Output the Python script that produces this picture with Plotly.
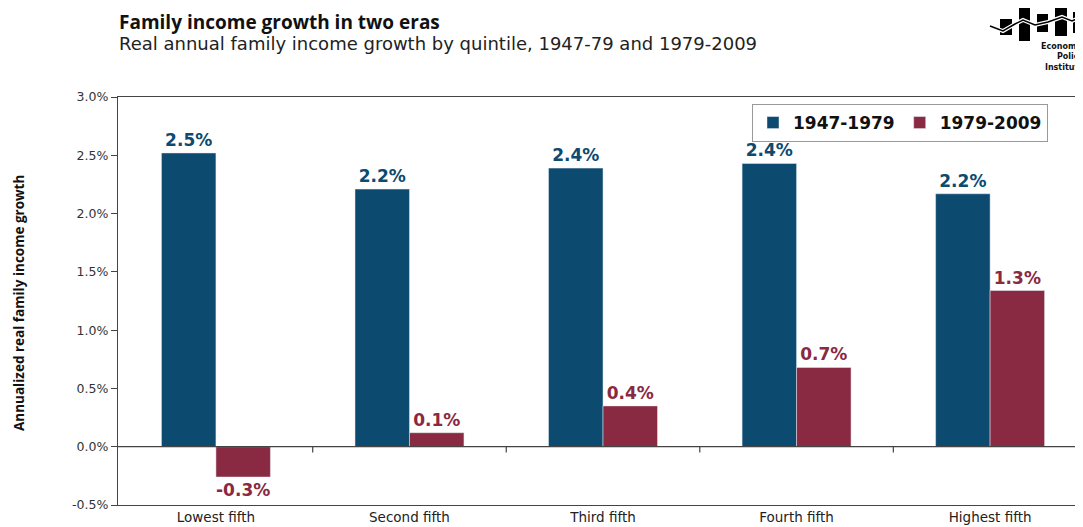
import plotly.graph_objects as go

categories = ["Lowest fifth", "Second fifth", "Third fifth", "Fourth fifth", "Highest fifth"]
era1_name = "1947-1979"
era2_name = "1979-2009"
era1_values = [2.52, 2.21, 2.39, 2.43, 2.17]
era2_values = [-0.26, 0.12, 0.35, 0.68, 1.34]
era1_labels = ["2.5%", "2.2%", "2.4%", "2.4%", "2.2%"]
era2_labels = ["-0.3%", "0.1%", "0.4%", "0.7%", "1.3%"]
ytick_vals = [-0.5, 0.0, 0.5, 1.0, 1.5, 2.0, 2.5, 3.0]
ytick_text = ["-0.5%", "0.0%", "0.5%", "1.0%", "1.5%", "2.0%", "2.5%", "3.0%"]

BLUE = "#0c4a6f"
RED = "#8a2942"

# the page has an 8px body margin; figure is sized so it ends at the window edge
OFF = 8
W, H = 1083 - OFF, 527 - OFF
PL, PT, PB, PR = 118, 97, 505, 1083          # plot area in page pixels
ML, MT, MR = PL - OFF, PT - OFF, 0
MB = H - (PB - OFF)
PW = PR - PL
PH = PB - PT


def px(x):
    return (x - PL) / PW


def py(y):
    return (PB - y) / PH


fig = go.Figure()
fig.add_trace(go.Bar(
    x=categories, y=era1_values, name=era1_name, marker_color=BLUE,
    text=era1_labels, textposition="outside", cliponaxis=False,
    textfont=dict(family="DejaVu Sans", size=17, color=BLUE, weight="bold"),
))
fig.add_trace(go.Bar(
    x=categories, y=era2_values, name=era2_name, marker_color=RED,
    text=era2_labels, textposition="outside", cliponaxis=False,
    textfont=dict(family="DejaVu Sans", size=17, color=RED, weight="bold"),
))

shapes = []
# zero line with ticks at category boundaries
for i in range(len(categories) - 1):
    shapes.append(dict(type="line", xref="x", yref="y", x0=i + 0.5, x1=i + 0.5,
                       y0=0, y1=-0.05, line=dict(color="#444", width=1.2)))
shapes.append(dict(type="line", xref="paper", yref="y", x0=0, x1=1, y0=0, y1=0,
                   line=dict(color="#444", width=1.3)))

# logo
bars = [(1000, 1012, 19, 35), (1019, 1030, 7, 41), (1037, 1048, 14, 32),
        (1055, 1067, 1, 36), (1073, 1083, 12, 33)]
for x0, x1, y0, y1 in bars:
    shapes.append(dict(type="rect", xref="paper", yref="paper",
                       x0=px(x0), x1=px(x1), y0=py(y1), y1=py(y0),
                       fillcolor="black", line=dict(width=0)))
wave = [(990, 26), (1003, 31), (1015, 24), (1023, 20), (1035, 25), (1048, 22),
        (1062, 17), (1072, 21), (1083, 16)]
path = "M " + " L ".join(f"{px(a):.5f},{py(b):.5f}" for a, b in wave)
shapes.append(dict(type="path", xref="paper", yref="paper", path=path,
                   line=dict(color="white", width=4)))
shapes.append(dict(type="path", xref="paper", yref="paper", path=path,
                   line=dict(color="black", width=1.5)))

annotations = [
    dict(text="<b>Family income growth in two eras</b>", xref="paper", yref="paper",
         x=px(117), y=py(22), xanchor="left", yanchor="middle", showarrow=False,
         font=dict(family="Open Sans", size=19, color="#111")),
    dict(text="Real annual family income growth by quintile, 1947-79 and 1979-2009",
         xref="paper", yref="paper", x=px(117), y=py(43), xanchor="left",
         yanchor="middle", showarrow=False,
         font=dict(family="DejaVu Sans", size=18, color="#222")),
    dict(text="<b>Annualized real family income growth</b>", xref="paper", yref="paper",
         x=px(19), y=py(303), xanchor="center", yanchor="middle", textangle=-90,
         showarrow=False,
         font=dict(family="Open Sans", size=13.5, color="#111")),
    dict(text="<b>Economic<br>Policy<br>Institute</b>", xref="paper", yref="paper",
         x=px(1086), y=py(40), xanchor="right", yanchor="top", align="right",
         showarrow=False, font=dict(family="DejaVu Sans", size=8, color="#111")),
]

fig.update_layout(
    width=W, height=H,
    margin=dict(l=ML, r=MR, t=MT, b=MB),
    paper_bgcolor="white", plot_bgcolor="white",
    barmode="group", bargap=0.437, bargroupgap=0,
    showlegend=True,
    legend=dict(orientation="h", x=px(752), y=py(104), xanchor="left", yanchor="top",
                bordercolor="#999", borderwidth=1, bgcolor="white",
                font=dict(family="DejaVu Sans", size=17, color="#111", weight="bold"),
                itemwidth=30, tracegroupgap=0),
    shapes=shapes,
    annotations=annotations,
    xaxis=dict(range=[-0.506, 4.48], showline=True, linecolor="#444", linewidth=1.3,
               mirror=True, ticks="", showgrid=False,
               tickfont=dict(family="DejaVu Sans", size=13.5, color="#222")),
    yaxis=dict(range=[-0.5, 3.0], tickvals=ytick_vals, ticktext=ytick_text,
               showline=True, linecolor="#444", linewidth=1.3, ticks="outside",
               ticklen=6, tickcolor="#444", showgrid=False, zeroline=False,
               tickfont=dict(family="DejaVu Sans", size=12.5, color="#333")),
)

fig.write_html("out.html")
